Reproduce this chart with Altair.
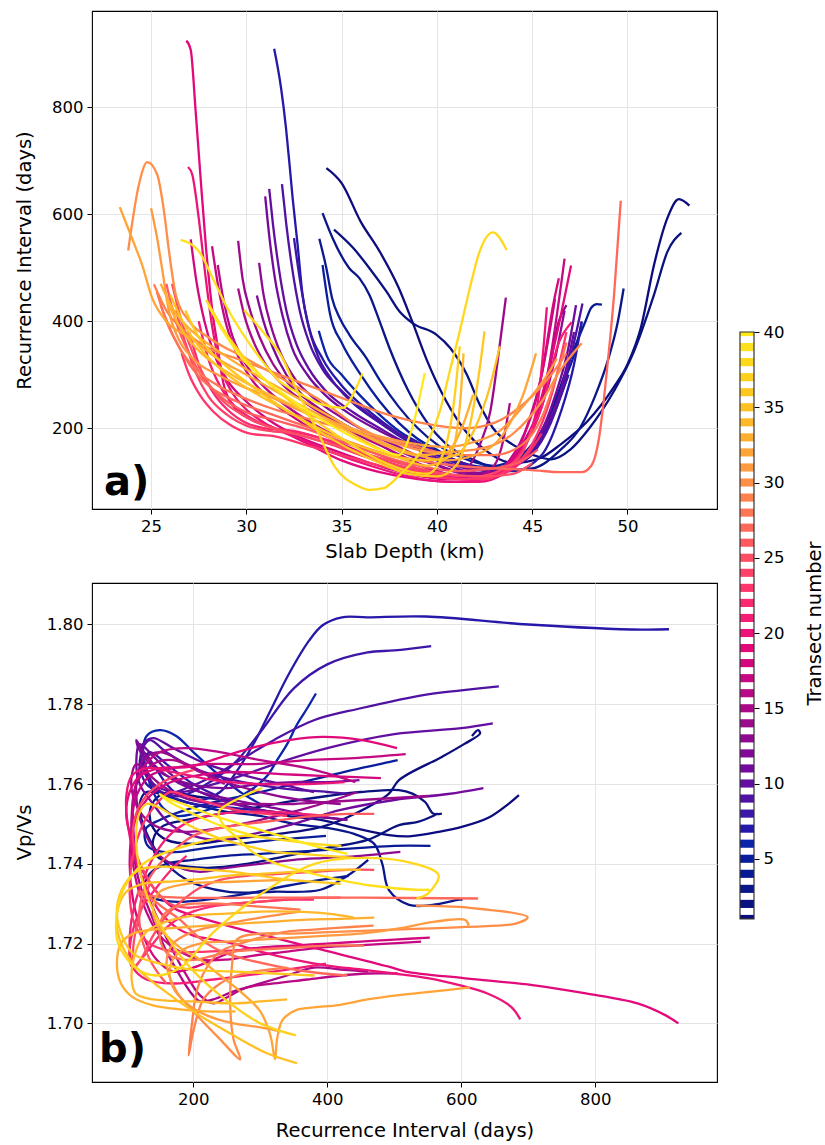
import altair as alt
import pandas as pd

TRANSECTS = list(range(1, 41))
COLORS = [
    "#0c0c7e", "#0a1280", "#0a168a", "#0a1a92", "#0a1e9c", "#0a24aa", "#2618a8", "#3c16a8",
    "#5012a2", "#620ea0", "#720a9c", "#800a96", "#8e0a90", "#9c0a8c", "#aa0a88", "#b80a86",
    "#c60882", "#d4087e", "#e20a7a", "#ec1478", "#f41e74", "#fa2a70", "#ff366c", "#ff4268",
    "#ff4e64", "#ff5a60", "#ff685a", "#ff7654", "#ff824e", "#ff8e48", "#ff9a40", "#ffa438",
    "#ffae30", "#ffb82a", "#ffc024", "#ffc820", "#ffd01e", "#ffd81c", "#ffe01c", "#ffe81c",
]
CB_TICKS = [5, 10, 15, 20, 25, 30, 35, 40]
A_XTICKS = [25, 30, 35, 40, 45, 50]
A_YTICKS = [200, 400, 600, 800]
B_XTICKS = [200, 400, 600, 800]
B_YTICKS = [1.70, 1.72, 1.74, 1.76, 1.78, 1.80]

# ---- panel a: [slab depth (km)], [recurrence interval (days)] per transect ----
A01 = [[34.2, 35.0, 36.0, 37.0, 38.0, 38.7, 39.5, 40.5, 41.5, 42.5, 44.0, 45.4, 46.5, 47.9, 49.25, 50.0, 50.7, 51.4, 52.1, 52.7, 53.25],
       [686, 658, 586, 530, 462, 400, 325, 250, 195, 160, 135, 144, 170, 213, 275, 319, 387, 506, 593, 628, 616]]
A02 = [[34.6, 35.6, 36.46, 37.34, 38.04, 38.74, 39.97, 40.7, 41.55, 42.25, 42.95, 44.0, 45.05, 46.0, 47.0, 48.0, 49.3, 50.3, 51.4, 52.1, 52.83],
       [571, 537, 499, 456, 418, 396, 375, 350, 302, 244, 200, 169, 150, 142, 160, 200, 270, 340, 450, 530, 565]]
A03 = [[34.0, 34.53, 35.4, 35.94, 36.46, 36.99, 37.51, 38.5, 39.5, 40.5, 42.0, 43.5, 45.0, 46.5, 47.5, 48.3, 49.0, 49.5, 49.8],
       [602, 555, 499, 480, 449, 400, 350, 270, 210, 170, 140, 122, 125, 160, 200, 260, 330, 400, 461]]
A04 = [[33.83, 34.2, 34.5, 34.9, 35.4, 36.3, 37.0, 38.0, 39.0, 40.0, 41.0, 42.5, 43.5, 44.8, 45.6, 46.3, 47.0, 47.8, 48.1, 48.4, 48.66],
       [554, 499, 443, 406, 375, 331, 290, 240, 200, 170, 150, 132, 128, 160, 200, 260, 330, 400, 425, 432, 431]]
A05 = [[34.0, 34.4, 35.0, 36.0, 37.0, 38.0, 39.0, 40.0, 41.0, 42.5, 44.0, 45.0, 46.0, 46.7, 47.3, 47.6],
       [505, 412, 360, 300, 250, 210, 180, 160, 140, 128, 140, 170, 230, 290, 350, 398]]
A06 = [[33.8, 34.2, 35.0, 36.0, 37.0, 38.0, 39.5, 41.0, 42.5, 44.0, 45.0, 46.0, 46.9],
       [382, 337, 300, 260, 225, 195, 165, 140, 125, 130, 160, 220, 300]]
A07 = [[31.46, 31.82, 32.08, 32.25, 32.43, 32.69, 32.95, 33.3, 34.0, 35.0, 36.5, 38.0, 40.0, 42.0, 44.0, 45.5, 46.5, 47.2, 47.6],
       [909, 836, 761, 699, 630, 543, 449, 387, 330, 280, 230, 190, 150, 125, 120, 150, 230, 320, 400]]
A08 = [[32.5, 32.8, 33.2, 33.7, 34.5, 35.5, 37.0, 38.5, 40.0, 41.5, 43.0, 44.5, 45.5, 46.3, 46.9],
       [555, 480, 400, 340, 290, 250, 210, 175, 150, 130, 125, 140, 180, 240, 300]]
A09 = [[31.87, 32.1, 32.4, 32.8, 33.3, 34.0, 35.0, 36.5, 38.0, 39.5, 41.0, 42.5, 44.0, 45.2, 46.2, 47.0, 47.64],
       [656, 580, 500, 420, 360, 310, 270, 225, 190, 165, 140, 125, 130, 160, 230, 330, 433]]
A10 = [[31.2, 31.4, 31.7, 32.1, 32.6, 33.3, 34.3, 35.6, 37.0, 38.5, 40.0, 41.5, 43.0, 44.5, 45.5, 46.5, 47.2],
       [647, 580, 500, 420, 360, 310, 265, 230, 200, 170, 145, 125, 120, 140, 190, 270, 380]]
A11 = [[30.99, 31.2, 31.5, 31.9, 32.4, 33.2, 34.2, 35.5, 37.0, 38.5, 40.0, 41.5, 43.0, 44.3, 45.3, 46.2, 46.9, 47.3],
       [633, 560, 480, 410, 350, 300, 260, 225, 195, 170, 140, 120, 115, 135, 180, 260, 350, 430]]
A12 = [[30.55, 30.9, 31.4, 32.1, 33.0, 34.2, 35.5, 37.0, 38.5, 40.0, 41.5, 43.0, 44.0, 45.0, 45.8, 46.4, 46.8],
       [448, 400, 350, 300, 260, 225, 200, 175, 150, 130, 115, 115, 140, 200, 290, 400, 430]]
A13 = [[30.67, 30.9, 31.3, 31.8, 32.6, 33.6, 35.0, 36.5, 38.0, 39.5, 41.0, 42.5, 43.5, 44.5, 45.5, 46.2, 46.7],
       [509, 450, 390, 340, 290, 255, 220, 190, 165, 140, 120, 115, 125, 160, 240, 330, 420]]
A14 = [[29.57, 29.8, 30.2, 30.7, 31.4, 32.3, 33.5, 35.0, 36.5, 38.0, 39.5, 41.0, 42.25, 42.8, 43.3, 43.62],
       [550, 480, 420, 370, 320, 280, 245, 210, 180, 150, 125, 110, 169, 231, 356, 444]]
A15 = [[29.57, 29.9, 30.4, 31.0, 31.8, 33.0, 34.5, 36.0, 37.5, 39.0, 40.5, 42.0, 43.0, 43.5, 43.83],
       [461, 410, 360, 320, 285, 250, 215, 185, 160, 135, 115, 108, 130, 180, 247]]
A16 = [[28.5, 28.8, 29.2, 29.8, 30.6, 31.8, 33.2, 35.0, 37.0, 39.0, 41.0, 42.5, 43.8, 44.8, 45.5, 46.2],
       [505, 440, 380, 330, 290, 250, 215, 180, 150, 125, 110, 110, 140, 210, 300, 442]]
A17 = [[28.2, 28.5, 28.9, 29.5, 30.2, 31.2, 32.5, 34.2, 36.0, 38.0, 40.0, 41.5, 43.0, 44.5, 45.8, 46.7],
       [540, 470, 400, 340, 295, 255, 220, 185, 155, 130, 115, 108, 115, 170, 300, 517]]
A18 = [[27.08, 27.4, 27.8, 28.3, 29.0, 30.0, 31.2, 32.7, 34.5, 36.5, 38.5, 40.5, 42.0, 43.3, 44.5, 45.5, 46.1, 46.4],
       [553, 470, 400, 340, 290, 250, 215, 185, 160, 135, 115, 105, 105, 120, 180, 300, 430, 480]]
A19 = [[26.85, 27.08, 27.34, 27.6, 27.87, 28.22, 28.48, 28.74, 29.27, 30.3, 31.5, 33.0, 35.0, 37.0, 39.0, 41.0, 42.5, 43.8, 45.0, 46.0, 47.04],
       [924, 907, 792, 667, 543, 418, 356, 294, 244, 215, 200, 175, 140, 118, 105, 100, 105, 130, 200, 330, 504]]
A20 = [[26.94, 27.16, 27.5, 27.87, 28.22, 28.6, 29.2, 30.0, 31.2, 32.8, 34.5, 36.5, 38.5, 40.5, 42.2, 43.5, 44.5, 45.3, 45.77],
       [688, 674, 593, 480, 387, 320, 270, 235, 205, 180, 155, 130, 110, 100, 100, 115, 160, 250, 426]]
A21 = [[27.5, 28.0, 28.6, 29.3, 30.2, 31.5, 33.0, 34.5, 36.0, 38.0, 40.0, 41.5, 43.0, 44.3, 45.5, 46.4, 47.07],
       [400, 330, 280, 245, 220, 200, 190, 175, 150, 125, 110, 105, 115, 150, 240, 360, 398]]
A22 = [[27.0, 27.5, 28.2, 29.0, 30.0, 31.0, 32.5, 34.0, 35.5, 37.5, 39.5, 41.5, 43.0, 44.5, 45.5],
       [380, 320, 270, 235, 210, 200, 195, 180, 160, 135, 115, 105, 110, 140, 190]]
A23 = [[26.6, 27.0, 27.6, 28.3, 29.2, 30.2, 31.5, 33.0, 35.0, 37.0, 39.0, 41.0, 42.5, 43.8, 45.0, 46.0, 46.8],
       [340, 300, 260, 230, 205, 190, 185, 170, 150, 130, 115, 105, 105, 125, 170, 260, 380]]
A24 = [[26.3, 26.8, 27.4, 28.0, 29.0, 30.0, 31.2, 32.5, 34.0, 36.0, 38.0, 40.0, 42.0, 43.5, 44.5, 45.0],
       [420, 360, 300, 260, 225, 205, 195, 190, 175, 150, 130, 115, 110, 125, 155, 200]]
A25 = [[26.1, 26.6, 27.2, 27.9, 28.8, 29.8, 31.0, 32.5, 34.5, 36.5, 38.5, 40.5, 42.5, 44.0, 45.0],
       [470, 400, 340, 290, 250, 225, 205, 190, 170, 150, 130, 115, 110, 115, 135]]
A26 = [[25.8, 26.3, 27.0, 27.8, 28.8, 30.0, 31.5, 33.0, 35.0, 37.0, 39.0, 41.0, 43.0, 44.5, 45.3],
       [470, 400, 340, 290, 255, 230, 215, 200, 175, 150, 130, 120, 125, 140, 160]]
A27 = [[25.5, 26.2, 27.0, 28.0, 29.5, 31.0, 33.0, 35.0, 37.0, 39.0, 41.0, 43.0, 45.0, 46.5, 47.6, 48.1, 48.5, 48.9, 49.3, 49.65],
       [430, 370, 320, 280, 250, 230, 205, 180, 155, 140, 130, 125, 122, 118, 118, 130, 180, 300, 450, 625]]
A28 = [[25.3, 25.8, 26.5, 27.5, 28.5, 30.0, 31.5, 33.0, 35.0, 37.0, 39.0, 41.0, 43.0, 44.5, 45.5, 46.3, 46.8],
       [455, 400, 350, 305, 280, 255, 235, 220, 200, 180, 165, 150, 150, 170, 220, 300, 360]]
A29 = [[25.15, 25.8, 26.8, 28.0, 29.5, 31.0, 32.5, 34.0, 35.5, 37.0, 38.5, 40.0, 41.5, 43.0, 44.0, 45.0, 46.0, 46.8],
       [469, 420, 380, 350, 330, 310, 290, 270, 250, 230, 215, 205, 200, 210, 230, 260, 300, 340]]
A30 = [[23.8, 24.36, 24.8, 25.32, 25.68, 25.94, 26.3, 27.0, 28.0, 30.0, 32.0, 34.0, 36.0, 38.0, 40.0, 42.0, 44.0, 45.5, 46.5, 47.6],
       [532, 655, 697, 674, 605, 531, 449, 400, 370, 330, 290, 250, 200, 170, 155, 160, 190, 250, 310, 359]]
A31 = [[25.0, 25.32, 25.6, 25.94, 26.4, 27.2, 28.5, 30.0, 31.5, 33.0, 35.0, 37.0, 39.0, 40.5, 42.0, 43.3, 44.5, 45.8, 46.3],
       [611, 555, 493, 418, 370, 330, 300, 275, 255, 230, 205, 185, 170, 165, 175, 195, 240, 300, 330]]
A32 = [[23.36, 24.0, 24.53, 25.06, 25.8, 27.0, 28.5, 30.0, 31.5, 33.0, 35.0, 37.0, 39.0, 40.5, 42.0, 43.5, 44.5, 45.2],
       [613, 555, 505, 443, 400, 370, 330, 300, 270, 240, 205, 175, 150, 140, 150, 190, 260, 340]]
A33 = [[25.5, 26.2, 27.2, 28.5, 30.0, 31.5, 33.0, 34.5, 36.0, 37.5, 39.0, 40.5, 41.3, 41.9],
       [470, 420, 380, 345, 310, 280, 250, 220, 190, 165, 150, 155, 200, 263]]
A34 = [[25.8, 26.5, 27.5, 29.0, 30.5, 32.0, 33.5, 35.0, 36.5, 38.0, 39.5, 40.7, 41.2, 41.4],
       [440, 390, 345, 305, 275, 250, 225, 200, 170, 145, 130, 150, 240, 340]]
A35 = [[26.0, 26.8, 27.8, 29.0, 30.5, 32.0, 33.5, 35.0, 36.5, 38.0, 39.5, 41.0, 42.0, 42.8, 43.3],
       [450, 390, 340, 300, 265, 235, 205, 180, 160, 145, 140, 150, 200, 280, 353]]
A36 = [[26.8, 27.5, 28.5, 29.5, 31.0, 32.5, 34.0, 35.5, 37.0, 38.5, 40.0, 41.0, 41.7, 42.2, 42.5],
       [420, 370, 330, 300, 260, 225, 190, 160, 135, 115, 110, 130, 200, 300, 381]]
A37 = [[27.9, 28.7, 29.7, 31.0, 32.5, 34.0, 35.5, 37.0, 38.5, 39.5, 40.3, 40.9, 41.2],
       [440, 390, 340, 290, 245, 205, 170, 140, 120, 115, 150, 250, 353]]
A38 = [[29.88, 30.85, 31.9, 32.6, 33.66, 34.7, 35.76, 36.46, 37.2, 38.05, 38.9, 39.6, 40.15, 40.67, 41.2, 41.73, 42.25, 42.95, 43.66],
       [421, 381, 331, 275, 200, 125, 94, 85, 88, 113, 144, 181, 231, 306, 381, 462, 531, 566, 533]]
A39 = [[26.55, 27.5, 28.4, 29.1, 29.97, 30.85, 31.73, 32.6, 34.0, 35.06, 35.76, 36.1],
       [552, 531, 468, 418, 368, 325, 288, 269, 244, 238, 275, 303]]
A40 = [[28.0, 28.8, 29.8, 31.0, 32.5, 34.0, 35.5, 37.0, 38.0, 38.7, 39.36],
       [430, 380, 330, 290, 250, 215, 185, 160, 150, 200, 303]]

# ---- panel b: [recurrence interval (days)], [Vp/Vs] per transect ----
B01 = [[686, 671, 641, 602, 566, 522, 492, 440, 390, 340, 290, 240, 200, 165, 145, 135, 140, 160, 200, 250, 300, 350, 393, 442, 492, 507, 571, 604, 628, 625, 616],
       [1.7572, 1.7551, 1.7516, 1.7493, 1.7480, 1.7469, 1.7472, 1.7490, 1.7510, 1.7520, 1.7540, 1.7560, 1.7570, 1.7580, 1.7565, 1.7530, 1.7490, 1.7460, 1.7450, 1.7460, 1.7470, 1.7480, 1.7493, 1.7526, 1.7576, 1.7610, 1.7668, 1.7700, 1.7727, 1.7735, 1.7720]]
B02 = [[571, 558, 546, 527, 507, 450, 400, 340, 290, 240, 190, 155, 140, 145, 170, 220, 280, 340, 400, 460, 507, 535, 558, 565],
       [1.7526, 1.7526, 1.7555, 1.7576, 1.7585, 1.7580, 1.7570, 1.7555, 1.7540, 1.7525, 1.7510, 1.7495, 1.7460, 1.7420, 1.7400, 1.7390, 1.7400, 1.7420, 1.7440, 1.7460, 1.7497, 1.7505, 1.7520, 1.7526]]
B03 = [[602, 597, 557, 522, 492, 482, 470, 440, 400, 350, 300, 250, 200, 160, 130, 120, 125, 150, 190, 250, 320, 390, 430, 461],
       [1.7310, 1.7310, 1.7297, 1.7297, 1.7334, 1.7400, 1.7450, 1.7475, 1.7490, 1.7500, 1.7520, 1.7530, 1.7550, 1.7570, 1.7580, 1.7550, 1.7500, 1.7420, 1.7360, 1.7330, 1.7330, 1.7335, 1.7370, 1.7410]]
B04 = [[554, 500, 450, 400, 350, 300, 250, 200, 160, 135, 128, 140, 170, 220, 280, 340, 390, 432],
       [1.7445, 1.7445, 1.7440, 1.7435, 1.7430, 1.7425, 1.7420, 1.7410, 1.7400, 1.7375, 1.7340, 1.7315, 1.7305, 1.7310, 1.7325, 1.7345, 1.7360, 1.7370]]
B05 = [[505, 492, 450, 400, 350, 300, 260, 220, 180, 150, 130, 128, 135, 155, 180, 220, 270, 320, 360, 398],
       [1.7660, 1.7655, 1.7640, 1.7620, 1.7600, 1.7580, 1.7565, 1.7550, 1.7530, 1.7510, 1.7490, 1.7460, 1.7440, 1.7430, 1.7430, 1.7440, 1.7450, 1.7460, 1.7465, 1.7470]]
B06 = [[383, 370, 355, 340, 325, 310, 290, 260, 230, 200, 175, 155, 140, 130, 125, 130, 150, 175, 200, 240, 270, 300],
       [1.7827, 1.7790, 1.7750, 1.7700, 1.7660, 1.7620, 1.7590, 1.7560, 1.7540, 1.7525, 1.7520, 1.7540, 1.7580, 1.7630, 1.7680, 1.7720, 1.7735, 1.7720, 1.7680, 1.7620, 1.7580, 1.7550]]
B07 = [[910, 870, 700, 547, 460, 422, 393, 373, 343, 313, 293, 268, 240, 210, 180, 160, 140, 125, 120, 130, 160, 200, 260, 320, 370, 400],
       [1.7988, 1.7987, 1.8000, 1.8020, 1.8018, 1.8018, 1.7998, 1.7960, 1.7877, 1.7777, 1.7710, 1.7640, 1.7580, 1.7560, 1.7570, 1.7600, 1.7650, 1.7680, 1.7650, 1.7600, 1.7570, 1.7550, 1.7540, 1.7530, 1.7520, 1.7515]]
B08 = [[555, 500, 460, 400, 350, 300, 260, 220, 180, 150, 130, 125, 135, 160, 200, 250, 300],
       [1.7946, 1.7935, 1.7930, 1.7900, 1.7840, 1.7730, 1.7650, 1.7600, 1.7570, 1.7580, 1.7620, 1.7650, 1.7680, 1.7650, 1.7600, 1.7560, 1.7530]]
B09 = [[656, 600, 550, 450, 380, 320, 270, 230, 190, 160, 140, 128, 125, 135, 160, 200, 260, 330, 400, 433],
       [1.7845, 1.7835, 1.7825, 1.7790, 1.7760, 1.7710, 1.7660, 1.7620, 1.7590, 1.7575, 1.7600, 1.7650, 1.7690, 1.7710, 1.7680, 1.7640, 1.7610, 1.7590, 1.7580, 1.7575]]
B10 = [[647, 600, 500, 400, 330, 270, 220, 180, 150, 130, 122, 125, 140, 170, 220, 280, 330, 380],
       [1.7752, 1.7740, 1.7725, 1.7690, 1.7655, 1.7620, 1.7595, 1.7580, 1.7590, 1.7620, 1.7660, 1.7700, 1.7715, 1.7690, 1.7650, 1.7620, 1.7600, 1.7580]]
B11 = [[633, 580, 500, 420, 350, 290, 240, 200, 165, 140, 120, 115, 120, 140, 170, 210, 260, 320, 380, 430],
       [1.7590, 1.7575, 1.7560, 1.7535, 1.7500, 1.7475, 1.7460, 1.7470, 1.7500, 1.7550, 1.7600, 1.7660, 1.7700, 1.7670, 1.7620, 1.7580, 1.7550, 1.7530, 1.7520, 1.7510]]
B12 = [[448, 400, 350, 300, 250, 210, 175, 150, 130, 118, 115, 122, 140, 170, 210, 260, 320, 380, 430],
       [1.7610, 1.7605, 1.7605, 1.7600, 1.7590, 1.7595, 1.7610, 1.7630, 1.7660, 1.7690, 1.7710, 1.7690, 1.7650, 1.7610, 1.7580, 1.7560, 1.7540, 1.7520, 1.7510]]
B13 = [[509, 450, 400, 350, 300, 250, 210, 180, 150, 130, 118, 115, 125, 150, 190, 240, 300, 360, 420],
       [1.7430, 1.7420, 1.7415, 1.7410, 1.7400, 1.7390, 1.7380, 1.7390, 1.7420, 1.7470, 1.7530, 1.7600, 1.7660, 1.7680, 1.7650, 1.7610, 1.7580, 1.7560, 1.7550]]
B14 = [[550, 500, 450, 400, 350, 300, 250, 210, 180, 150, 130, 115, 108, 110, 125, 150, 190, 240, 300, 360, 410, 445],
       [1.7570, 1.7565, 1.7560, 1.7555, 1.7550, 1.7550, 1.7550, 1.7555, 1.7570, 1.7600, 1.7630, 1.7650, 1.7620, 1.7570, 1.7520, 1.7490, 1.7480, 1.7490, 1.7510, 1.7535, 1.7560, 1.7580]]
B15 = [[461, 420, 380, 340, 300, 260, 230, 210, 195, 180, 160, 140, 120, 110, 108, 115, 140, 170, 210, 247],
       [1.7130, 1.7135, 1.7140, 1.7120, 1.7100, 1.7080, 1.7060, 1.7055, 1.7080, 1.7120, 1.7180, 1.7260, 1.7350, 1.7440, 1.7520, 1.7600, 1.7650, 1.7660, 1.7630, 1.7600]]
B16 = [[505, 460, 420, 370, 320, 280, 250, 230, 210, 190, 170, 150, 130, 115, 110, 112, 125, 150, 190, 240, 300, 370, 442],
       [1.7125, 1.7125, 1.7120, 1.7110, 1.7100, 1.7090, 1.7065, 1.7050, 1.7070, 1.7120, 1.7180, 1.7250, 1.7330, 1.7420, 1.7500, 1.7580, 1.7640, 1.7680, 1.7690, 1.7680, 1.7660, 1.7640, 1.7605]]
B17 = [[540, 490, 440, 390, 340, 290, 250, 210, 180, 150, 125, 110, 108, 115, 135, 170, 220, 290, 370, 440, 517],
       [1.7205, 1.7200, 1.7195, 1.7190, 1.7180, 1.7170, 1.7160, 1.7160, 1.7180, 1.7220, 1.7300, 1.7400, 1.7500, 1.7570, 1.7620, 1.7640, 1.7650, 1.7650, 1.7660, 1.7665, 1.7675]]
B18 = [[553, 500, 450, 400, 350, 300, 260, 230, 200, 170, 145, 125, 110, 105, 110, 130, 160, 200, 260, 330, 400, 480],
       [1.7215, 1.7210, 1.7205, 1.7200, 1.7195, 1.7190, 1.7180, 1.7160, 1.7140, 1.7130, 1.7160, 1.7220, 1.7310, 1.7400, 1.7490, 1.7560, 1.7600, 1.7620, 1.7630, 1.7625, 1.7620, 1.7615]]
B19 = [[924, 905, 863, 786, 706, 606, 517, 492, 393, 293, 240, 200, 170, 145, 125, 110, 100, 105, 120, 150, 194, 243, 293, 343, 393, 452, 504],
       [1.7000, 1.7020, 1.7050, 1.7075, 1.7096, 1.7113, 1.7130, 1.7142, 1.7184, 1.7226, 1.7250, 1.7270, 1.7290, 1.7330, 1.7380, 1.7450, 1.7520, 1.7580, 1.7620, 1.7640, 1.7643, 1.7668, 1.7693, 1.7710, 1.7718, 1.7710, 1.7690]]
B20 = [[688, 674, 639, 597, 552, 500, 450, 400, 350, 300, 260, 230, 200, 175, 150, 130, 112, 102, 100, 108, 130, 170, 230, 300, 370, 426],
       [1.7010, 1.7042, 1.7075, 1.7096, 1.7113, 1.7125, 1.7135, 1.7145, 1.7160, 1.7180, 1.7200, 1.7210, 1.7220, 1.7240, 1.7280, 1.7340, 1.7420, 1.7500, 1.7570, 1.7620, 1.7640, 1.7630, 1.7610, 1.7600, 1.7600, 1.7605]]
B21 = [[400, 360, 320, 280, 240, 200, 170, 145, 125, 110, 105, 110, 130, 170, 230, 300, 360, 398],
       [1.7520, 1.7525, 1.7530, 1.7530, 1.7525, 1.7510, 1.7480, 1.7430, 1.7360, 1.7280, 1.7200, 1.7140, 1.7110, 1.7100, 1.7110, 1.7125, 1.7140, 1.7150]]
B22 = [[380, 340, 300, 260, 220, 185, 160, 140, 122, 110, 105, 108, 120, 145, 170, 190],
       [1.7310, 1.7310, 1.7305, 1.7300, 1.7290, 1.7270, 1.7240, 1.7200, 1.7160, 1.7140, 1.7160, 1.7220, 1.7280, 1.7340, 1.7390, 1.7420]]
B23 = [[340, 310, 280, 250, 220, 190, 165, 145, 125, 110, 105, 112, 135, 170, 220, 280, 340, 380],
       [1.7520, 1.7525, 1.7530, 1.7540, 1.7555, 1.7570, 1.7580, 1.7550, 1.7500, 1.7420, 1.7330, 1.7250, 1.7200, 1.7180, 1.7180, 1.7185, 1.7190, 1.7195]]
B24 = [[420, 380, 340, 300, 260, 220, 190, 165, 145, 130, 118, 110, 112, 125, 150, 180, 200],
       [1.7315, 1.7315, 1.7310, 1.7305, 1.7300, 1.7295, 1.7290, 1.7300, 1.7330, 1.7370, 1.7410, 1.7460, 1.7510, 1.7560, 1.7600, 1.7625, 1.7635]]
B25 = [[470, 430, 380, 330, 280, 240, 210, 185, 160, 140, 125, 112, 110, 115, 125, 135],
       [1.7385, 1.7385, 1.7380, 1.7375, 1.7370, 1.7360, 1.7340, 1.7310, 1.7270, 1.7220, 1.7170, 1.7140, 1.7180, 1.7240, 1.7300, 1.7350]]
B26 = [[470, 430, 380, 330, 280, 240, 200, 175, 150, 130, 120, 122, 135, 150, 160],
       [1.7525, 1.7525, 1.7520, 1.7510, 1.7500, 1.7490, 1.7470, 1.7440, 1.7400, 1.7350, 1.7290, 1.7220, 1.7160, 1.7120, 1.7100]]
B27 = [[430, 370, 320, 280, 250, 230, 205, 180, 155, 140, 130, 125, 122, 118, 118, 130, 180, 300, 450, 625],
       [1.7120, 1.7130, 1.7145, 1.7160, 1.7175, 1.7190, 1.7220, 1.7260, 1.7290, 1.7310, 1.7320, 1.7330, 1.7330, 1.7330, 1.7325, 1.7320, 1.7315, 1.7315, 1.7315, 1.7313]]
B28 = [[455, 400, 350, 300, 260, 230, 205, 185, 165, 152, 150, 155, 170, 200, 240, 280, 320, 360],
       [1.7195, 1.7195, 1.7190, 1.7185, 1.7180, 1.7170, 1.7160, 1.7160, 1.7170, 1.7200, 1.7240, 1.7270, 1.7290, 1.7300, 1.7300, 1.7295, 1.7290, 1.7285]]
B29 = [[469, 420, 380, 340, 300, 270, 240, 220, 205, 198, 193, 200, 215, 240, 265, 290, 315, 340],
       [1.7245, 1.7240, 1.7235, 1.7230, 1.7215, 1.7200, 1.7180, 1.7140, 1.7080, 1.7000, 1.6920, 1.6980, 1.7060, 1.7100, 1.7120, 1.7130, 1.7135, 1.7140]]
B30 = [[532, 610, 699, 681, 606, 500, 420, 350, 300, 265, 258, 255, 260, 270, 240, 200, 175, 160, 170, 200, 250, 300, 359],
       [1.7295, 1.7290, 1.7266, 1.7250, 1.7242, 1.7235, 1.7230, 1.7225, 1.7225, 1.7210, 1.7150, 1.7050, 1.6960, 1.6910, 1.6960, 1.7030, 1.7080, 1.7150, 1.7200, 1.7230, 1.7250, 1.7265, 1.7280]]
B31 = [[611, 606, 561, 507, 450, 400, 350, 300, 250, 210, 180, 165, 170, 190, 220, 260, 300, 330],
       [1.7245, 1.7259, 1.7255, 1.7238, 1.7225, 1.7220, 1.7215, 1.7210, 1.7205, 1.7200, 1.7180, 1.7140, 1.7090, 1.7050, 1.7020, 1.7000, 1.6990, 1.6980]]
B32 = [[613, 560, 507, 460, 417, 380, 353, 333, 325, 322, 315, 300, 270, 240, 210, 180, 160, 145, 140, 150, 190, 260, 340],
       [1.7090, 1.7080, 1.7071, 1.7060, 1.7046, 1.7040, 1.7033, 1.7008, 1.6960, 1.6910, 1.6970, 1.7030, 1.7080, 1.7120, 1.7160, 1.7190, 1.7220, 1.7250, 1.7290, 1.7330, 1.7350, 1.7355, 1.7360]]
B33 = [[470, 420, 370, 320, 270, 220, 180, 140, 110, 92, 86, 92, 110, 140, 180, 220, 263],
       [1.7265, 1.7262, 1.7260, 1.7255, 1.7250, 1.7245, 1.7240, 1.7235, 1.7225, 1.7200, 1.7150, 1.7100, 1.7065, 1.7045, 1.7035, 1.7030, 1.7030]]
B34 = [[440, 400, 350, 300, 250, 200, 160, 130, 112, 108, 114, 140, 200, 263, 300, 340],
       [1.7265, 1.7275, 1.7280, 1.7280, 1.7275, 1.7270, 1.7255, 1.7230, 1.7170, 1.7110, 1.7075, 1.7060, 1.7055, 1.7050, 1.7055, 1.7060]]
B35 = [[450, 400, 350, 300, 250, 200, 160, 125, 100, 88, 86, 95, 115, 150, 200, 260, 310, 355],
       [1.7385, 1.7385, 1.7380, 1.7375, 1.7370, 1.7360, 1.7355, 1.7350, 1.7330, 1.7290, 1.7240, 1.7190, 1.7140, 1.7090, 1.7030, 1.6970, 1.6925, 1.6900]]
B36 = [[420, 380, 340, 300, 260, 220, 185, 150, 120, 98, 86, 92, 110, 150, 200, 260, 320, 381],
       [1.7350, 1.7355, 1.7360, 1.7370, 1.7380, 1.7385, 1.7390, 1.7393, 1.7385, 1.7350, 1.7290, 1.7226, 1.7175, 1.7150, 1.7134, 1.7130, 1.7125, 1.7120]]
B37 = [[440, 400, 360, 320, 280, 245, 215, 190, 170, 150, 130, 118, 115, 125, 150, 190, 240, 300, 353],
       [1.7415, 1.7420, 1.7425, 1.7430, 1.7445, 1.7460, 1.7480, 1.7500, 1.7520, 1.7540, 1.7550, 1.7520, 1.7450, 1.7350, 1.7250, 1.7150, 1.7070, 1.7000, 1.6970]]
B38 = [[421, 381, 331, 275, 200, 125, 94, 85, 88, 113, 144, 181, 231, 306, 381, 462, 531, 566, 550, 533],
       [1.7445, 1.7450, 1.7460, 1.7470, 1.7450, 1.7400, 1.7330, 1.7260, 1.7200, 1.7140, 1.7120, 1.7140, 1.7230, 1.7330, 1.7400, 1.7415, 1.7400, 1.7372, 1.7325, 1.7313]]
B39 = [[552, 531, 468, 418, 368, 325, 288, 269, 244, 238, 275, 303],
       [1.7335, 1.7335, 1.7345, 1.7360, 1.7380, 1.7400, 1.7430, 1.7460, 1.7500, 1.7530, 1.7570, 1.7590]]
B40 = [[430, 380, 330, 290, 250, 215, 185, 160, 150, 160, 200, 250, 303],
       [1.7425, 1.7445, 1.7470, 1.7490, 1.7510, 1.7530, 1.7550, 1.7565, 1.7575, 1.7560, 1.7525, 1.7490, 1.7465]]

PANEL_A = [A01, A02, A03, A04, A05, A06, A07, A08, A09, A10, A11, A12, A13, A14, A15, A16, A17, A18, A19, A20,
           A21, A22, A23, A24, A25, A26, A27, A28, A29, A30, A31, A32, A33, A34, A35, A36, A37, A38, A39, A40]
PANEL_B = [B01, B02, B03, B04, B05, B06, B07, B08, B09, B10, B11, B12, B13, B14, B15, B16, B17, B18, B19, B20,
           B21, B22, B23, B24, B25, B26, B27, B28, B29, B30, B31, B32, B33, B34, B35, B36, B37, B38, B39, B40]

rows_a = []
for t, (xs, ys) in zip(TRANSECTS, PANEL_A):
    for i, (x, y) in enumerate(zip(xs, ys)):
        rows_a.append({"t": t, "i": i, "depth": x, "ri": y})
rows_b = []
for t, (xs, ys) in zip(TRANSECTS, PANEL_B):
    for i, (x, y) in enumerate(zip(xs, ys)):
        rows_b.append({"t": t, "i": i, "ri": x, "vpvs": y})
df_a = pd.DataFrame(rows_a)
df_b = pd.DataFrame(rows_b)

cb_rows = [{"t": t, "lo": max(1.0, t - 0.27), "hi": min(40.0, t + 0.27)} for t in TRANSECTS]
df_cb = pd.DataFrame(cb_rows)

FONT = "DejaVu Sans"
ax = dict(labelFont=FONT, titleFont=FONT, labelFontSize=16.5, titleFontSize=19.5,
          labelColor="black", titleColor="black", titleFontWeight="normal",
          tickColor="black", tickSize=5, labelPadding=4, domain=False,
          gridColor="#e4e4e4", gridWidth=1)

color_enc = alt.Color("t:O", scale=alt.Scale(domain=TRANSECTS, range=COLORS), legend=None)

W, H = 625, 498

lines_a = alt.Chart(df_a).mark_line(strokeWidth=2.3, clip=True, interpolate="monotone").encode(
    x=alt.X("depth:Q", scale=alt.Scale(domain=[21.9, 54.7], nice=False, zero=False),
            axis=alt.Axis(values=A_XTICKS, title="Slab Depth (km)", titlePadding=8, **ax)),
    y=alt.Y("ri:Q", scale=alt.Scale(domain=[49.2, 979.4], nice=False, zero=False),
            axis=alt.Axis(values=A_YTICKS, title="Recurrence Interval (days)", titleX=-68, titleY=H / 2,
                          titleAngle=270, titleBaseline="middle", titleAlign="center", **ax)),
    color=color_enc,
    detail="t:N",
    order=alt.Order("i:Q"),
)
label_a = alt.Chart(pd.DataFrame({"s": ["a)"]})).mark_text(
    font=FONT, fontSize=40, fontWeight="bold", align="left", baseline="alphabetic", color="black"
).encode(x=alt.value(12), y=alt.value(484), text="s:N")
panel_a = alt.layer(lines_a, label_a).properties(width=W, height=H)

lines_b = alt.Chart(df_b).mark_line(strokeWidth=2.3, clip=True, interpolate="catmull-rom").encode(
    x=alt.X("ri:Q", scale=alt.Scale(domain=[48.8, 981.6], nice=False, zero=False),
            axis=alt.Axis(values=B_XTICKS, title="Recurrence Interval (days)", titlePadding=14, **ax)),
    y=alt.Y("vpvs:Q", scale=alt.Scale(domain=[1.6853, 1.8104], nice=False, zero=False),
            axis=alt.Axis(values=B_YTICKS, format=".2f", title="Vp/Vs", titleX=-68, titleY=H / 2,
                          titleAngle=270, titleBaseline="middle", titleAlign="center", **ax)),
    color=color_enc,
    detail="t:N",
    order=alt.Order("i:Q"),
)
label_b = alt.Chart(pd.DataFrame({"s": ["b)"]})).mark_text(
    font=FONT, fontSize=40, fontWeight="bold", align="left", baseline="alphabetic", color="black"
).encode(x=alt.value(7), y=alt.value(479), text="s:N")
panel_b = alt.layer(lines_b, label_b).properties(width=W, height=H + 1)

CB_H = 1072
cb_scale = alt.Scale(domain=[-9.90, 61.33], nice=False, zero=False)
cb_axis = alt.Axis(orient="right", values=CB_TICKS, title="Transect number", grid=False,
                   titleX=60, titleY=612, titleAngle=270, titleBaseline="middle",
                   titleAlign="center", **ax)
cb_bars = alt.Chart(df_cb).mark_rect().encode(
    y=alt.Y("lo:Q", scale=cb_scale, axis=cb_axis),
    y2="hi:Q",
    x=alt.value(0),
    x2=alt.value(14),
    color=color_enc,
)
cb_frame = alt.Chart(pd.DataFrame({"lo": [1.0], "hi": [40.0]})).mark_rect(
    fill="transparent", stroke="#333333", strokeWidth=1.2
).encode(
    y=alt.Y("lo:Q", scale=cb_scale, axis=cb_axis),
    y2="hi:Q",
    x=alt.value(0),
    x2=alt.value(14),
)
colorbar = alt.layer(cb_bars, cb_frame).properties(
    width=14, height=CB_H, view=alt.ViewBackground(stroke="transparent")
)

chart = alt.hconcat(
    alt.vconcat(panel_a, panel_b, spacing=20),
    colorbar,
    spacing=20,
).properties(
    padding={"left": 13, "top": 10, "right": 0, "bottom": 0},
    background="white",
).configure_view(stroke="black", strokeWidth=1.1)

chart.save("out.html", embed_options={"renderer": "svg", "actions": False})
